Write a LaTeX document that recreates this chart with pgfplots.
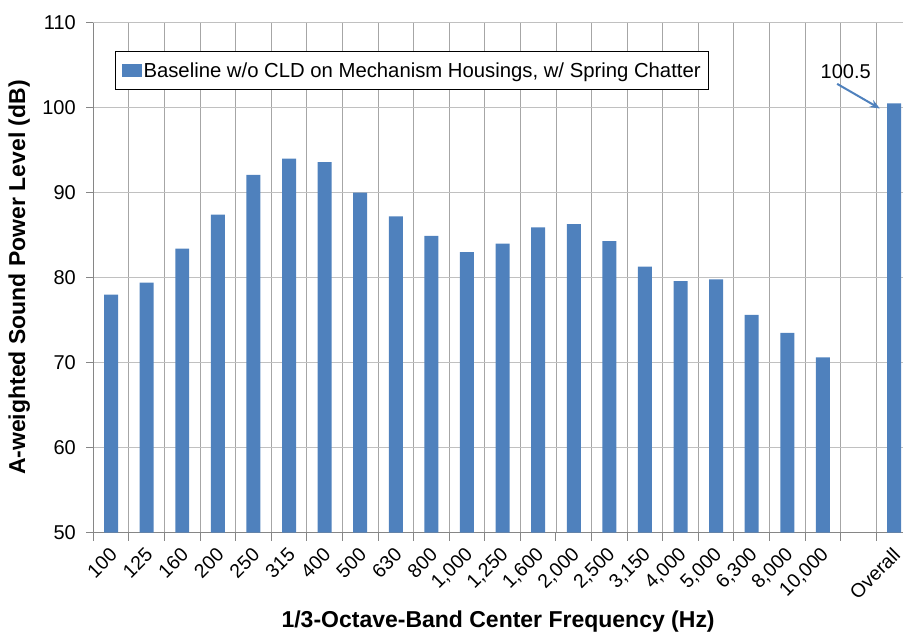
\documentclass[border=0pt]{standalone}
\usepackage{pgfplots}
\pgfplotsset{compat=1.18}
\usepackage{fontspec}
\setmainfont{Liberation Sans}
\usetikzlibrary{arrows.meta}
\definecolor{barblue}{HTML}{4F81BD}
\definecolor{hgrid}{HTML}{C0C0C0}
\definecolor{vgrid}{HTML}{A6A6A6}
\definecolor{axisgray}{HTML}{868686}

\begin{document}
\begin{tikzpicture}
\begin{axis}[
  scale only axis,
  width=810pt, height=510pt,
  xmin=-0.5, xmax=22.25,
  ymin=50, ymax=110,
  ytick={50,60,...,110},
  xtick={0,...,20,22},
  xticklabels={100,125,160,200,250,315,400,500,630,800,{1,000},{1,250},{1,600},{2,000},{2,500},{3,150},{4,000},{5,000},{6,300},{8,000},{10,000},Overall},
  minor xtick={-0.5,0.5,...,21.5},
  /pgf/number format/assume math mode=true,
  axis x line*=bottom, axis y line*=left,
  axis line style={axisgray, line width=1.2pt, -},
  ymajorgrids, xminorgrids,
  major grid style={hgrid, line width=1.2pt},
  minor grid style={vgrid, line width=0.9pt},
  tick align=outside,
  major tick length=7pt, minor tick length=8pt,
  major x tick style={draw=none},
  tick style={axisgray, line width=1pt},
  xticklabel style={xshift=5pt, yshift=-9.5pt, rotate=45, anchor=east, font=\fontsize{19.5}{19.5}\selectfont},
  yticklabel style={xshift=-7pt, font=\fontsize{20}{20}\selectfont},
  xlabel={\bfseries 1/3-Octave-Band Center Frequency (Hz)},
  ylabel={\bfseries A-weighted Sound Power Level (dB)},
  xlabel style={at={(axis description cs:0.5,-0.1745)}, anchor=center, font=\fontsize{23}{23}\selectfont},
  ylabel style={at={(axis description cs:-0.0914,0.5)}, anchor=center, rotate=0, font=\fontsize{23}{23}\selectfont},
  legend style={at={(0.027,0.944)}, anchor=north west, draw=black, line width=0.8pt,
    font=\fontsize{20.3}{20.3}\selectfont, inner xsep=6pt, inner ysep=9pt},
  legend image code/.code={\path (0pt,-6.5pt) rectangle (20pt,6.5pt);
    \fill[barblue] (4pt,-6.5pt) rectangle (17pt,6.5pt);},
]
\addplot[ybar, bar width=14pt, fill=barblue, draw=none] coordinates {
  (0,78.0) (1,79.4) (2,83.4) (3,87.4) (4,92.1) (5,94.0) (6,93.6)
  (7,90.0) (8,87.2) (9,84.9) (10,83.0) (11,84.0) (12,85.9) (13,86.3)
  (14,84.3) (15,81.3) (16,79.6) (17,79.8) (18,75.6) (19,73.5) (20,70.6)
  (22,100.5)
};
\addlegendentry{Baseline w/o CLD on Mechanism Housings, w/ Spring Chatter}
\node[font=\fontsize{20}{20}\selectfont] at (axis cs:20.64,104.2) {100.5};
\draw[-{Stealth[length=10pt,width=8pt]}, barblue, line width=2pt]
  (axis cs:20.4,102.8) -- (axis cs:21.6,99.9);
\end{axis}
\pgfresetboundingbox
\useasboundingbox ([shift={(-93.3pt,-103.7pt)}]current axis.south west)
  rectangle ([yshift=22.7pt]current axis.north east);
\end{tikzpicture}
\end{document}
